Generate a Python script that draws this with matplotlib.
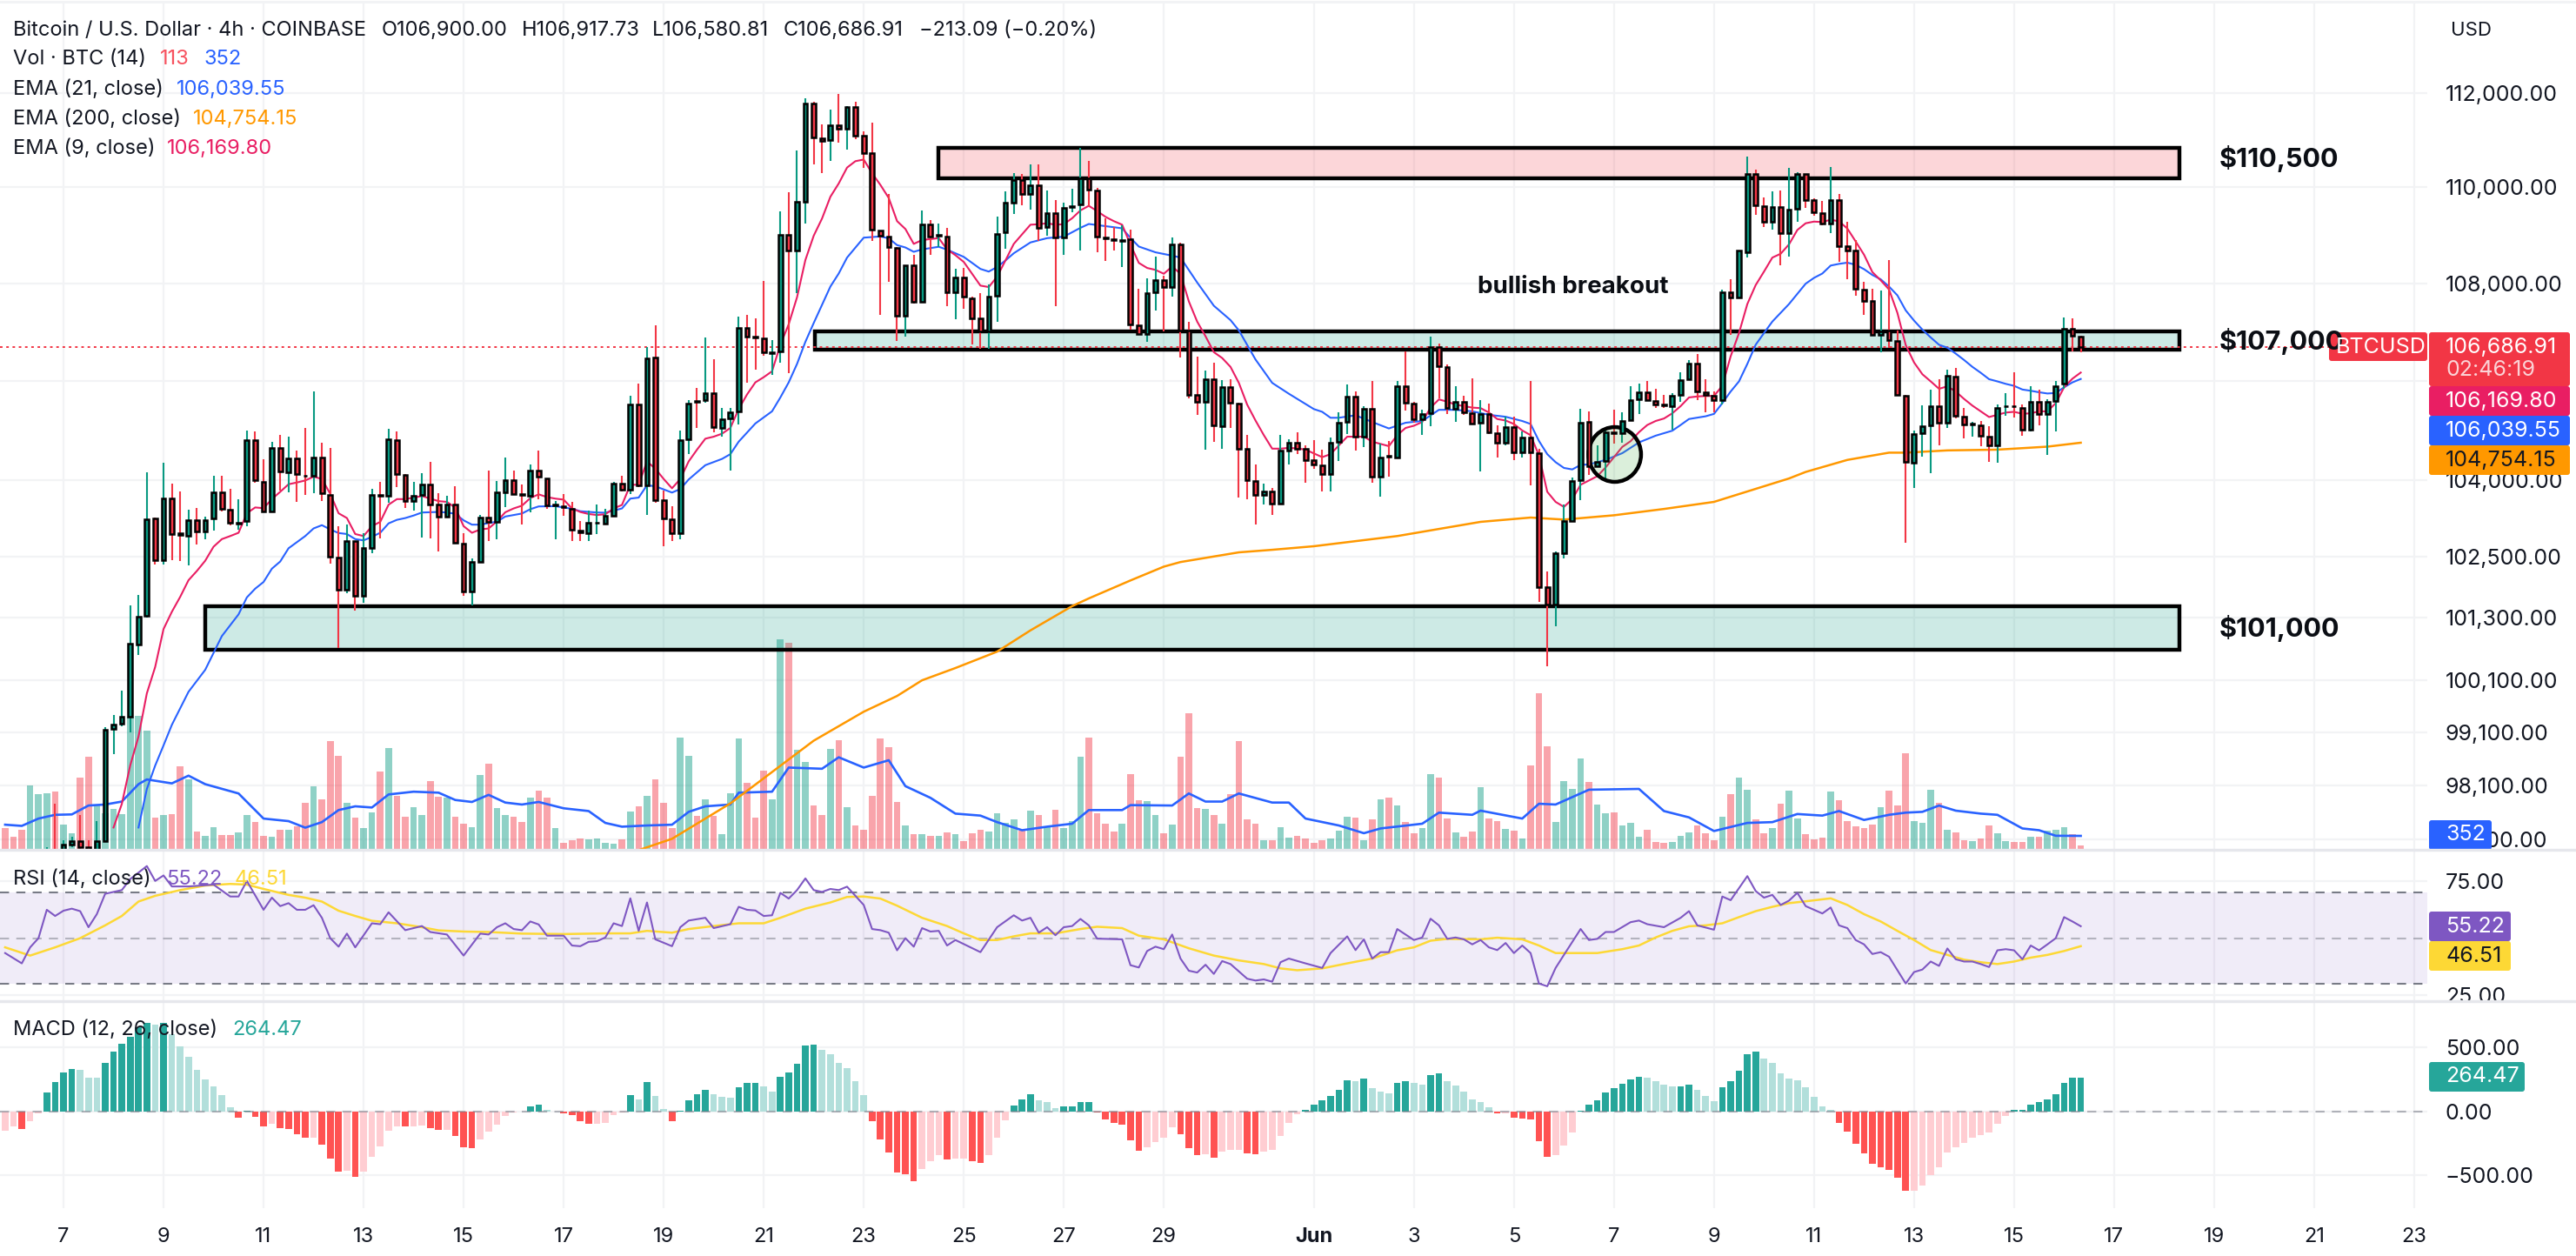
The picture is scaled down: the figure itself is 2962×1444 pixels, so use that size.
import matplotlib
matplotlib.use('Agg')
import matplotlib.pyplot as plt
import numpy as np
from matplotlib.patches import Rectangle, Ellipse, FancyBboxPatch
from matplotlib.ticker import NullLocator

plt.rcParams['font.family'] = ['Inter', 'DejaVu Sans']

# 4h bars, numbered from the May 7 00:00 bar
bars = np.arange(-7, 243)

opens = [
    96500,96400,96350,96200,96300,96450,96900,96700,97010,97075,
    96950,96900,97070,99170,99270,99410,100790,101335,103240,102430,
    103640,102950,102910,103220,102990,103240,103760,103420,103150,103200,
    104812,103980,103390,104650,104160,104440,104100,104090,104450,103720,
    102470,101850,102795,101735,102670,103720,103690,104800,104110,103590,
    103715,103925,103520,103290,103520,102755,101820,102390,103260,103175,
    103770,104010,103730,103700,104200,104045,103500,103490,103445,103000,
    102960,103160,103145,103305,103930,103815,105520,103905,106480,103610,
    103230,102960,104815,105590,105610,105755,105050,105240,105385,107075,
    106900,106870,106570,106600,109000,108685,109700,111780,111040,111005,
    111315,111245,111705,111085,110720,109100,108970,108730,107330,108375,
    107615,109215,108990,108975,107805,108120,107695,107270,107010,107745,
    109060,109685,110160,109855,110035,109170,109460,108940,109580,109635,
    110190,109925,108950,108915,108880,108905,107135,106955,107820,108065,
    107920,108800,107020,105715,105575,106030,105080,105875,105540,104625,
    103995,103705,103775,103535,104595,104750,104625,104410,104310,104135,
    104765,105170,105685,104870,105430,104070,104490,104455,105895,105545,
    105220,105345,106690,106285,105430,105580,105345,105150,105335,104945,
    104750,105060,104555,104860,104545,101905,101565,102570,103205,104000,
    105170,104290,104380,104970,104950,105210,105625,105765,105590,105520,
    105490,105715,106030,106360,105765,105695,105610,107810,107700,108650,
    110285,109595,109270,109580,109045,109540,110285,109730,109450,109245,
    109740,108760,108670,107870,107630,106945,107020,106810,105700,104350,
    104945,105100,105490,105150,106090,105270,105120,105100,104870,104700,
    105480,105495,105450,105010,105575,105335,105590,105940,107070,106900,
]
closes = [
    96400,96350,96200,96300,96450,96900,96700,97010,97075,96950,
    96900,97075,99150,99260,99400,100800,101330,103236,102430,103640,
    102940,102930,103220,102990,103220,103760,103430,103160,103170,104812,
    104000,103390,104650,104180,104440,104130,104085,104450,103745,102500,
    101850,102795,101735,102660,103720,103700,104825,104120,103590,103690,
    103925,103530,103290,103520,102770,101820,102390,103260,103175,103760,
    104010,103725,103710,104200,104070,103500,103520,103470,103020,102980,
    103155,103170,103300,103930,103815,105520,103905,106465,103610,103240,
    102960,104800,105540,105570,105755,105065,105230,105360,107075,106895,
    106880,106575,106590,109000,108685,109700,111780,111055,110980,111315,
    111245,111705,111095,110730,109110,108985,108755,107330,108375,107615,
    109220,108975,109005,107805,108120,107715,107280,107010,107730,109015,
    109670,110160,109855,110050,109155,109460,108940,109560,109600,110190,
    109945,108975,108930,108895,108895,107160,106950,107790,108065,107920,
    108800,107030,105725,105575,106030,105100,105875,105550,104640,104010,
    103705,103775,103535,104595,104750,104640,104410,104320,104135,104755,
    105160,105685,104870,105430,104070,104465,104470,105895,105555,105220,
    105335,106690,106295,105445,105580,105360,105130,105335,104955,104750,
    105060,104555,104860,104555,101905,101565,102555,103205,103985,105150,
    104290,104365,104955,104950,105190,105610,105765,105610,105530,105500,
    105695,106015,106360,105785,105710,105610,107805,107700,108670,110285,
    109620,109270,109580,109045,109525,110285,109740,109470,109245,109740,
    108775,108670,107885,107640,106945,107005,106835,105715,104370,104925,
    105080,105490,105150,106100,105300,105125,105130,104895,104700,105450,
    105495,105480,105010,105575,105335,105575,105900,107063,106915,106686.91,
]
highs = [
    96600,96500,96550,96600,96500,96950,97770,97090,97150,97550,
    97080,97445,99200,99440,99910,101540,101750,104170,103265,104345,
    103940,103790,103420,103450,103290,104090,104090,103840,103630,105000,
    104980,104420,104770,104910,104880,104590,105050,105790,104750,104650,
    103095,103120,102795,102950,103840,103970,105030,104980,104120,103970,
    104150,104365,103745,103700,103890,102965,102460,103315,104190,103985,
    104450,104200,103925,104320,104600,104045,103585,103730,103570,103200,
    103410,103515,103445,103970,104100,105700,105940,106690,107140,103800,
    103490,104990,105610,105850,106880,106435,105445,105445,107315,107350,
    107280,108040,106835,109500,109890,110780,111895,111805,111330,111645,
    111990,111725,111805,111190,111365,109100,109855,108755,108375,108590,
    109520,109305,109245,109155,108300,108315,107715,107790,107970,109380,
    109910,110290,110275,110475,110475,109925,109725,109670,109960,110840,
    110565,109990,109350,109165,109195,109105,107890,108100,108545,108150,
    108940,108845,107210,106485,106205,106370,106015,106030,105560,104905,
    104320,103945,103845,104905,104830,104955,104700,104800,104615,104860,
    105360,105920,105785,105480,105990,104740,104780,105990,106600,105580,
    105415,106900,106760,106330,105900,105695,106045,105610,105540,105095,
    105280,105280,104975,105990,104625,102200,102600,103530,104055,105430,
    105390,104695,105050,105415,105360,105890,105940,105990,105840,105710,
    105755,106175,106425,106555,106035,105785,107875,108090,108670,110645,
    110375,109790,109905,109935,110405,110315,110285,109770,109705,110430,
    109850,109270,108895,108020,107885,107855,108480,107020,105725,104990,
    105500,105815,106030,106220,106255,105460,105180,105185,105080,105530,
    105750,106175,105520,105890,105815,105630,105995,107300,107270,106917.73,
]
lows = [
    96000,96100,96000,96000,96100,96100,96500,96600,96950,96900,
    96800,96800,97050,98690,99220,99100,100590,101310,102350,102350,
    102430,102415,102330,102740,102840,103010,103380,103110,103030,103090,
    103950,103360,103380,103800,103760,103575,103710,103745,103590,102365,
    100720,101775,101450,101600,102555,102855,103560,103875,103450,103405,
    102875,102855,102600,103290,102745,101735,101540,102380,102800,102830,
    103470,103725,103130,103375,103630,103440,102830,103300,102800,102800,
    102800,102945,103130,103305,103790,103725,103870,103320,103560,102700,
    102800,102830,104525,105050,105560,104965,104880,104205,105120,105960,
    106225,106515,106125,106375,106155,107790,109240,110475,110305,110565,
    110950,110790,111025,110415,108880,107345,108035,106805,106895,107585,
    107615,108580,108745,107535,107250,107465,106750,106660,106645,107210,
    108710,109440,109625,109530,108880,108985,107535,108590,109470,108670,
    109605,108640,108455,108675,108335,107040,106930,106790,107445,107000,
    107725,106475,105655,105315,104615,104770,104630,105050,103660,103630,
    103125,103520,103320,103535,104320,104525,103960,104235,103790,103790,
    104380,104935,104595,104660,103960,103675,104070,104455,105400,105160,
    104905,105080,105640,105335,105170,105315,105130,104185,104920,104450,
    104700,104400,104450,103900,101605,100365,101140,102455,103205,103605,
    104115,104260,103970,104730,104760,105210,105330,105610,105450,105460,
    105020,105580,106030,105610,105370,105370,105520,106930,107700,108530,
    109420,109165,109105,108365,108545,109275,109560,109410,109195,109035,
    108440,108090,107750,107345,106915,106585,106675,105715,102765,103850,
    104480,104145,104700,105050,105245,104835,104875,104685,104370,104350,
    105300,105255,104895,104980,105100,104510,104980,105840,106600,106580.81,
]
volumes = [
    540,335,500,1630,1405,1420,1470,630,420,1825,
    2355,1145,930,1030,900,3370,3390,3010,810,880,
    900,2110,1780,465,350,575,370,370,435,885,
    705,350,335,510,510,585,1190,1610,1285,2745,
    2370,1190,820,550,940,1980,2570,1375,835,1080,
    885,1740,1350,1330,835,660,575,1890,2175,1050,
    890,835,705,1330,1500,1310,550,175,250,280,
    260,280,175,160,260,960,1095,1365,1775,1190,
    540,2835,2370,865,1285,865,400,1440,2820,1700,
    820,2000,1285,5320,5240,2540,2215,1125,890,2560,
    2770,1080,615,510,1365,2810,2595,1210,615,400,
    400,350,350,435,400,215,420,505,465,925,
    680,775,495,990,885,585,1015,540,725,2360,
    2840,930,660,465,650,1920,1260,1230,885,420,
    645,2360,3460,1060,1035,885,650,1405,2750,775,
    650,240,240,580,305,355,290,185,240,290,
    495,840,820,250,775,1275,1325,1130,700,420,
    540,1920,1825,790,445,335,465,1585,800,725,
    530,475,290,2135,3960,2620,710,1745,1540,2310,
    1715,1145,925,950,615,680,335,505,205,175,
    205,355,440,615,420,250,840,1405,1825,1520,
    775,420,560,1165,1500,790,400,260,305,1470,
    1260,725,585,540,645,1080,1500,1130,2440,725,
    680,1520,1195,505,440,240,225,290,615,420,
    225,195,195,335,335,485,510,580,400,113,
]
macd_hist = [
    -150,-120,-135,-78,-17,150,230,300,333,320,
    264,261,380,462,528,577,655,690,675,690,
    600,505,425,325,250,197,125,35,-50,3,
    -40,-120,-100,-130,-140,-175,-204,-204,-258,-367,
    -468,-462,-511,-468,-356,-275,-150,-118,-120,-120,
    -112,-130,-146,-146,-192,-278,-284,-218,-160,-103,
    -34,-11,-3,37,49,12,-3,-14,-32,-75,
    -98,-98,-92,-32,-6,129,95,227,123,17,
    -75,2,89,135,169,135,115,106,190,218,
    224,192,155,270,304,367,514,519,482,448,
    379,339,238,129,-75,-218,-321,-479,-491,-542,
    -448,-390,-344,-376,-370,-370,-385,-399,-344,-207,
    -69,46,95,135,89,75,26,37,37,69,
    69,-6,-60,-92,-106,-227,-310,-281,-241,-207,
    -126,-175,-284,-341,-333,-364,-313,-298,-298,-327,
    -336,-316,-298,-189,-92,-23,11,55,89,118,
    169,244,238,258,184,155,138,218,235,224,
    210,284,298,238,198,155,95,75,34,-14,
    -14,-49,-55,-63,-235,-353,-344,-264,-164,6,
    55,86,146,184,212,250,270,261,235,210,
    195,195,210,164,123,80,190,238,319,448,
    462,413,379,293,252,244,189,115,40,14,
    -89,-155,-250,-327,-408,-433,-456,-514,-617,-617,
    -577,-494,-436,-319,-278,-244,-207,-184,-164,-95,
    -34,12,12,55,69,95,135,224,264,264.47,
]

ema9_bars = np.arange(6, 243)
ema9 = [
    97320,97760,98480,99030,99850,100355,101085,101420,101710,102035,
    102215,102415,102690,102840,102900,102965,103350,103465,103450,103630,
    103775,103925,103960,104000,104075,104030,103735,103350,103255,102940,
    102900,103095,103180,103520,103630,103630,103660,103690,103640,103590,
    103575,103460,103095,102965,103030,103050,103190,103370,103445,103500,
    103650,103725,103670,103640,103620,103445,103375,103335,103315,103330,
    103445,103515,103915,103915,104380,104235,104030,103845,104030,104380,
    104615,104835,104875,104935,105050,105430,105725,105970,106075,106195,
    106735,107155,107710,108480,108985,109345,109800,110080,110415,110550,
    110585,110295,110050,109775,109290,109125,108815,108895,108915,108935,
    108700,108580,108440,108195,107950,107920,108135,108470,108815,109015,
    109215,109225,109245,109215,109225,109350,109515,109610,109500,109380,
    109290,109215,108800,108420,108315,108275,108195,108345,108195,107625,
    107210,106910,106585,106465,106285,105960,105520,105200,104905,104635,
    104635,104650,104640,104615,104540,104465,104525,104700,104875,104875,
    104875,104775,104730,104685,104905,105050,105095,105170,105460,105625,
    105580,105520,105490,105460,105450,105360,105230,105200,105130,105000,
    104905,104500,103775,103575,103475,103630,103915,104000,104085,104260,
    104465,104670,104785,104965,105110,105190,105240,105345,105490,105665,
    105685,105695,105695,105900,106500,106975,107570,107960,108240,108530,
    108610,108805,109105,109245,109280,109270,109320,109285,109135,108865,
    108590,108230,108060,107870,107390,106730,106375,106135,105990,105840,
    105890,105785,105635,105500,105385,105270,105315,105360,105375,105335,
    105345,105385,105385,105550,105870,106045,106169.80,
]
ema21_bars = [
    9,10,11,12,13,15,17,19,21,22,23,24,25,26,27,29,30,31,32,33,34,35,36,37,38,39,40,41,42,43,45,46,47,48,49,50,
    52,53,55,56,57,59,61,62,64,65,67,68,69,70,71,73,74,75,77,79,80,81,83,85,86,87,88,89,90,92,93,94,96,98,99,
    100,101,102,103,105,106,107,108,110,111,112,113,114,116,118,120,122,123,125,127,128,129,131,133,134,136,138,140,141,143,145,147,150,
    151,152,153,155,157,159,161,163,165,167,169,171,173,175,176,177,178,179,180,181,182,183,185,187,189,191,193,194,195,197,
    198,199,200,201,202,203,204,205,206,207,208,209,210,211,212,213,214,215,216,217,218,219,220,221,222,223,224,225,226,227,
    228,229,230,231,232,233,234,235,236,237,238,239,240,241,242,
]
ema21 = [
    97320,98040,98480,98860,99250,99880,100300,100950,101370,101700,101870,102000,102260,102400,102660,102900,103050,103115,103030,102960,102940,102840,102815,102885,102965,103150,103220,103255,103305,103365,103376,103365,103340,103210,103125,103125,
    103185,103285,103345,103430,103485,103490,103440,103390,103365,103360,103445,103640,103660,103905,103885,103760,103830,104020,104305,104430,104525,104775,105140,105385,105665,105970,106345,106795,107180,107930,108200,108530,108945,108970,108930,
    108790,108740,108650,108700,108755,108695,108620,108545,108295,108240,108335,108470,108620,108845,108935,108965,109150,109230,109185,109140,108940,108760,108640,108570,108530,108015,107535,107240,107030,106435,105960,105740,105430,
    105375,105255,105255,105305,105170,105040,105155,105190,105415,105415,105385,105315,105275,105190,105130,104790,104525,104365,104250,104220,104310,104320,104410,104545,104760,104895,104995,105110,105230,105285,
    105333,105550,105785,105990,106345,106735,106975,107210,107390,107570,107780,107990,108110,108200,108365,108400,108425,108380,108290,108170,108080,107930,107750,107440,107230,107045,106885,106735,106675,106555,
    106425,106285,106165,106035,105990,105940,105900,105825,105800,105770,105745,105755,105870,105970,106039.55,
]
ema200_bars = [69,73,80,90,96,100,103,107,112,116,121,123,128,132,134,141,145,150,160,170,176,180,186,192,198,204,207,209,214,219,221,226,232,238,242]
ema200 = [
    96900,97110,97770,98950,99500,99800,100100,100335,100650,101060,101530,101680,102030,102300,102390,102580,102630,102700,102900,103180,
    103265,103225,103310,103435,103575,103885,104040,104170,104410,104555,104555,104600,104615,104675,104754.15,
]
vol_sma_bars = [
    -7,-5,-3,-1,1,3,5,7,9,10,13,15,17,21,24,27,29,31,33,35,37,39,42,45,47,49,51,53,55,57,60,63,65,67,70,73,75,77,80,81,85,87,91,93,96,99,101,104,107,
    110,112,115,118,121,123,127,128,133,135,137,139,141,145,147,149,153,156,158,163,165,169,170,175,177,179,183,189,192,195,198,202,205,208,211,213,216,219,221,223,225,227,230,232,235,237,239,242,
]
vol_sma = [
    635,605,790,885,895,1120,1145,1220,1660,1780,1680,1875,1660,1425,790,725,560,700,1005,1100,1070,1400,1470,1445,1260,1210,1390,1195,1145,1210,1050,980,680,585,615,635,960,1100,1145,1445,1470,2080,2050,2340,2080,2265,1610,1315,915,
    865,700,495,585,660,1005,1005,1130,1120,1425,1220,1220,1425,1195,1195,790,615,420,540,660,940,885,990,790,1165,1145,1520,1540,980,820,475,680,700,905,865,980,755,885,940,960,1120,990,915,885,540,495,355,352,
]
rsi_bars = [
    -7,-5,-4,-3,-2,-1,0,1,2,3,4,5,7,8,10,11,12,13,15,18,20,21,22,24,25,26,27,28,29,30,31,32,33,34,35,37,38,39,41,43,44,46,48,50,51,52,53,54,55,56,57,58,60,61,62,63,64,65,66,67,68,69,70,71,73,74,75,77,78,80,81,82,83,84,85,86,87,88,89,90,91,92,93,94,96,97,98,99,100,101,102,103,104,105,106,107,
    110,112,114,115,116,117,118,119,120,121,122,123,124,127,128,129,130,131,132,133,134,135,136,137,138,139,140,142,143,144,145,146,147,149,151,152,154,155,156,157,158,159,160,162,163,164,165,166,167,168,169,170,171,172,173,174,175,176,177,178,179,180,182,183,184,185,186,188,189,190,192,194,195,196,198,199,200,202,203,204,205,206,207,208,209,211,212,213,214,215,216,217,218,219,221,
    222,223,224,225,226,227,228,229,230,231,232,233,234,235,236,237,238,239,240,241,242,
]
rsi = [
    43.5,39,46,50,62.4,59.7,62,62.9,61.8,54.8,60.5,69.4,71,75.8,81.5,75,77.4,72.6,72.6,73.4,68.2,68.2,75,62.4,67.7,64,65.3,62.4,62.4,64.4,58.9,50,46.3,52,46,56.5,56.1,61.3,53.5,55.3,52.7,51.6,42.4,52,51.6,54.8,56.5,54,53.5,57.3,56,51.1,51.1,46.8,46.5,48.4,48.7,50.3,56.5,55.3,67.4,53.2,65.6,49.5,46.5,54.8,57.7,58.9,54.4,56.1,63.7,62.4,62.1,59.7,60,69.8,67.3,71,76.1,71,70.2,71.5,71,72.5,64.5,54,53.5,52.4,44.7,50,46.3,54.4,52.9,53.2,46.8,49.2,
    43.9,54.8,60,57.7,58.9,52.4,54.8,51.3,54.8,55.3,58.4,55.6,49.8,49.5,38.2,37.2,44.4,46.3,45.2,51.6,41.1,35.8,35,38.4,34.4,40,38.7,32.3,31.5,32,31,39.5,41.1,39,37,43.5,50.8,44.8,49.5,41.1,43.9,43.9,54,49.2,50.3,58.5,55.6,49.7,50.3,49.5,47.3,49.2,46,44.8,47.9,43.5,46.8,43.5,30.2,29,37,42.7,54,49.2,49.7,52.7,52.7,57,57.7,56.1,54.8,58.9,61.8,55.6,53.7,68.2,66.6,77.1,70.6,67.7,68.9,64.5,66.4,69.8,64,60.8,63.4,55.6,54.4,49.2,47.3,43.1,43.9,41.9,30.2,
    35.2,36.3,39.8,37.9,45.5,40.8,39.8,39.8,38.7,37.4,44.7,45.2,44.7,40.8,46.8,44.7,47.3,50,59.2,57.3,55.22,
]
rsi_ma_bars = [
    -7,-4,-1,2,5,7,9,11,14,17,20,22,24,27,29,31,33,35,37,40,43,45,48,51,55,60,65,68,70,73,75,78,81,84,86,89,92,94,96,98,100,103,106,
    108,110,112,114,116,119,122,124,127,129,132,135,138,141,144,146,148,151,154,157,160,162,164,166,170,172,175,177,179,181,184,187,189,191,193,195,197,199,201,203,205,207,209,212,214,216,218,220,222,224,226,228,230,232,234,236,238,240,242,
]
rsi_ma = [
    46,42.4,46,50,55.6,59.7,66,68.5,71,73,73.7,73.4,71.5,68.9,67.7,66,62,59.7,57.6,56.5,54.8,53.4,52.9,52.7,52,51.8,52.1,52.1,53.2,52.4,54,55.3,56.5,56.5,58.9,62.9,65.6,68,68.2,67.3,64.2,58.9,55.3,
    52.1,49.2,49.2,50.8,52.1,52.1,54,55,54.4,51.1,49.5,45.6,42.4,40.3,38.7,36.8,36,36.8,39,41.1,44.7,46,48.9,49.7,49.5,50.2,49.5,46.8,43.5,43.5,43.5,45.2,46.8,50.3,53.2,55.2,55.6,56.5,59.2,61.8,63.7,65.3,66.1,67.4,64.5,60.5,57.3,53.2,49.2,44.8,42.7,40.6,39.5,38.7,39.8,41.5,42.7,44.4,46.51,
]

price_ticks = [112000, 110000, 108000, 106000, 104000, 102500, 101300, 100100, 99100, 98100, 97100]
rsi_ticks = [75, 25]
macd_ticks = [500, 0, -500]
day_labels = ['7','9','11','13','15','17','19','21','23','25','27','29','Jun','3','5','7','9','11','13','15','17','19','21','23']
day_bars = [0,12,24,36,48,60,72,84,96,108,120,132,150,162,174,186,198,210,222,234,246,258,270,282]

# zones: left bar, right bar, low price, high price
zone_resistance = [105, 253.8, 110190, 110832]
zone_mid = [90.1, 253.8, 106640, 107008]
zone_support = [17, 253.8, 100690, 101534]

W, H = 2962, 1444
PANE_R = 2791
GREEN, RED = '#089981', '#f23645'
INK = '#131722'
GRID = '#f2f3f5'
XLIM = (-7.616, 283.57)

fig = plt.figure(figsize=(W / 100, H / 100), dpi=100, facecolor='white')

def pane(top, bottom, z):
    a = fig.add_axes([0, 1 - bottom / H, PANE_R / W, (bottom - top) / H], zorder=z)
    a.patch.set_alpha(0)
    for s in a.spines.values():
        s.set_visible(False)
    a.set_xlim(*XLIM)
    a.set_xticks(day_bars)
    a.tick_params(length=0, labelbottom=False)
    return a

def grid_on(a, axis='both'):
    a.set_axisbelow(True)
    a.grid(True, axis=axis, color=GRID, lw=1.6)

# bottom layer only holds the grid of the price pane
ax_grid = pane(3, 977, 0)
ax_grid.set_yscale('log')
ax_grid.set_ylim(96906, 113955)
ax_grid.yaxis.set_minor_locator(NullLocator())
ax_grid.set_yticks(price_ticks)
ax_grid.set_yticklabels([])
grid_on(ax_grid)

o = np.array(opens)
c = np.array(closes)
h = np.array(highs)
l = np.array(lows)
up = c >= o

ax_vol = pane(3, 977, 1)
ax_vol.set_ylim(0, 21428)
ax_vol.set_yticks([])
ax_vol.bar(bars, volumes, width=0.8, color=np.where(up, GREEN, RED), alpha=0.45, lw=0)
ax_vol.plot(vol_sma_bars, vol_sma, color='#2962ff', lw=1.9)

ax = pane(3, 977, 2)
ax.set_yscale('log')
ax.set_ylim(96906, 113955)
ax.yaxis.set_minor_locator(NullLocator())
ax.yaxis.tick_right()
ax.set_yticks(price_ticks)
# 106,000 sits fully behind the last-price badge in the reference
ax.set_yticklabels(['' if p == 106000 else f'{p:,.2f}' for p in price_ticks], fontsize=18, color=INK)
ax.tick_params(axis='y', length=0, pad=15, labelright=True, labelleft=False)

for z, col in [(zone_resistance, RED), (zone_mid, GREEN), (zone_support, GREEN)]:
    rgb = matplotlib.colors.to_rgb(col)
    ax.add_patch(Rectangle((z[0], z[2]), z[1] - z[0], z[3] - z[2], facecolor=rgb + (0.2,),
                           edgecolor='black', lw=3.2, zorder=1, joinstyle='miter'))
ax.axhline(closes[-1], color=RED, lw=1.4, ls=(0, (1.5, 2.2)), zorder=1.5)

ax.plot(ema200_bars, ema200, color='#ff9800', lw=1.8, zorder=2)
ax.plot(ema21_bars, ema21, color='#2962ff', lw=1.5, zorder=2)
ax.plot(ema9_bars, ema9, color='#e91e63', lw=1.5, zorder=2)

ax.vlines(bars, l, h, colors=np.where(up, GREEN, RED), lw=1.5, zorder=3)
ax.bar(bars, np.abs(c - o), bottom=np.minimum(o, c), width=0.5,
       color=np.where(up, GREEN, RED), edgecolor='black', lw=1.8, zorder=4)

ax.add_patch(Ellipse((186.1, 104520), 6.3, 1095, facecolor=(0.3, 0.69, 0.31, 0.2),
                     edgecolor='black', lw=3.2, zorder=3.5))

# RSI pane
ax_rsi = pane(977, 1151, 3)
ax_rsi.set_ylim(22.5, 88.6)
grid_on(ax_rsi)
ax_rsi.yaxis.tick_right()
ax_rsi.set_yticks(rsi_ticks)
ax_rsi.set_yticklabels([f'{v:.2f}' for v in rsi_ticks], fontsize=18, color=INK)
ax_rsi.tick_params(axis='y', length=0, pad=15, labelright=True, labelleft=False)
ax_rsi.axhspan(30, 70, color='#7e57c2', alpha=0.11, lw=0)
ax_rsi.axhline(70, color='#787b86', lw=1.5, ls=(0, (5, 4)))
ax_rsi.axhline(30, color='#787b86', lw=1.5, ls=(0, (5, 4)))
ax_rsi.axhline(50, color='#787b86', lw=1.5, ls=(0, (5, 4)), alpha=0.5)
ax_rsi.plot(rsi_ma_bars, rsi_ma, color='#fdd835', lw=1.8)
ax_rsi.plot(rsi_bars, rsi, color='#7e57c2', lw=1.5)

# MACD pane
ax_macd = pane(1151, 1389, 3)
ax_macd.set_ylim(-754, 858)
grid_on(ax_macd)
ax_macd.yaxis.tick_right()
ax_macd.set_yticks(macd_ticks)
ax_macd.set_yticklabels(['500.00', '0.00', '\u2212500.00'], fontsize=18, color=INK)
ax_macd.tick_params(axis='y', length=0, pad=15, labelright=True, labelleft=False)
ax_macd.set_xticklabels(day_labels, fontsize=17, color=INK)
ax_macd.tick_params(axis='x', length=0, pad=16, labelbottom=True)
ax_macd.get_xticklabels()[day_labels.index('Jun')].set_fontweight('bold')
hist = np.array(macd_hist)
prev = np.r_[hist[0], hist[:-1]]
hist_cols = np.where(hist >= 0, np.where(hist >= prev, '#26a69a', '#b2dfdb'),
                     np.where(hist < prev, '#ff5252', '#ffcdd2'))
ax_macd.bar(bars, hist, width=0.8, color=hist_cols, lw=0)
ax_macd.axhline(0, color='#787b86', lw=1.5, ls=(0, (5, 4)), alpha=0.55)

# overlay in picture pixels for legends, notes and price badges
ov = fig.add_axes([0, 0, 1, 1], zorder=10)
ov.set_xlim(0, W)
ov.set_ylim(H, 0)
ov.axis('off')

for y, lw in [(2, 2.2), (977, 2.4), (1151, 2.4)]:
    ov.plot([0, W], [y, y], color='#e6e7ec' if y > 2 else GRID, lw=lw)

def label(x, y, s, color=INK, size=17, **kw):
    ov.text(x, y, s, color=color, fontsize=size, va='center', ha=kw.pop('ha', 'left'), **kw)

label(15, 35, 'Bitcoin / U.S. Dollar \u00b7 4h \u00b7 COINBASE')
label(439, 35, 'O106,900.00')
label(600, 35, 'H106,917.73')
label(750, 35, 'L106,580.81')
label(901, 35, 'C106,686.91')
label(1057, 35, '\u2212213.09 (\u22120.20%)')
label(15, 68, 'Vol \u00b7 BTC (14)')
label(184, 68, '113', color='#f7525f')
label(235, 68, '352', color='#2962ff')
label(15, 103, 'EMA (21, close)')
label(203, 103, '106,039.55', color='#2962ff')
label(15, 137, 'EMA (200, close)')
label(222, 137, '104,754.15', color='#ff9800')
label(15, 171, 'EMA (9, close)')
label(192, 171, '106,169.80', color='#e91e63')
label(15, 1011, 'RSI (14, close)')
label(191, 1011, '55.22', color='#7e57c2')
label(270, 1011, '46.51', color='#fdd835')
label(15, 1184, 'MACD (12, 26, close)')
label(267, 1184, '264.47', color='#26a69a')

label(1699, 330, 'bullish breakout', color='#0b0e14', size=20, fontweight='bold')
label(2552, 182, '$110,500', color='#0b0e14', size=22, fontweight='bold')
label(2552, 393, '$107,000', color='#0b0e14', size=22, fontweight='bold')
label(2552, 722, '$101,000', color='#0b0e14', size=22, fontweight='bold')

def badge(x0, x1, y0, y1, color):
    ov.add_patch(FancyBboxPatch((x0 + 3, y0 + 3), x1 - x0 - 6, y1 - y0 - 6, boxstyle='round,pad=3,rounding_size=3',
                                facecolor=color, edgecolor='none'))

badge(2678, 2791, 382, 415, RED)
label(2686, 399, 'BTCUSD', color='white', size=18)
badge(2793, 2955, 382, 444, RED)
label(2812, 399, '106,686.91', color='white', size=18)
label(2812, 426, '02:46:19', color='#fbd3d6', size=18)
badge(2793, 2955, 444, 478, '#e91e63')
label(2812, 461, '106,169.80', color='white', size=18)
badge(2793, 2955, 478, 512, '#2962ff')
label(2812, 495, '106,039.55', color='white', size=18)
badge(2793, 2955, 512, 546, '#ff9800')
label(2812, 529, '104,754.15', color='#131722', size=18)
badge(2793, 2865, 943, 977, '#2962ff')
label(2812, 960, '352', color='white', size=18)
badge(2793, 2887, 1048, 1082, '#7e57c2')
label(2812, 1065, '55.22', color='white', size=18)
badge(2793, 2887, 1082, 1116, '#fdd835')
label(2812, 1099, '46.51', color='#131722', size=18)
badge(2793, 2903, 1221, 1255, '#26a69a')
label(2812, 1238, '264.47', color='white', size=18)

label(2818, 35, 'USD', size=16)

fig.savefig('out.png', dpi=100, facecolor='white')
